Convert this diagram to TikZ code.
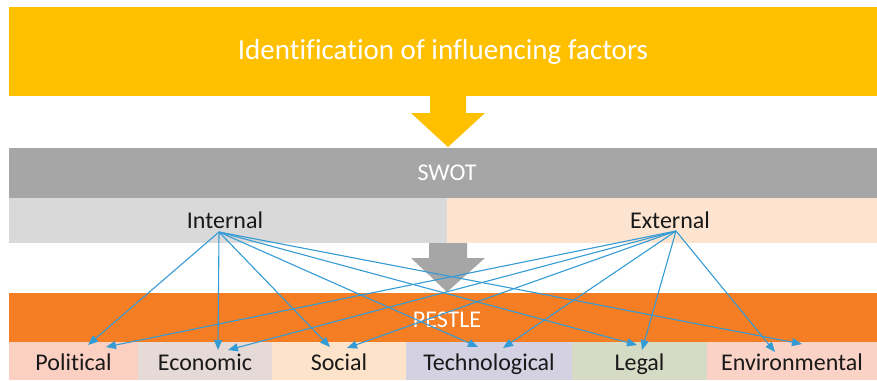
\documentclass[tikz,border=0pt]{standalone}
\usepackage{fontspec}
\setmainfont[Ligatures=NoCommon]{Carlito}
\usetikzlibrary{arrows.meta}

\definecolor{bandyellow}{RGB}{255,192,0}
\definecolor{swotgrey}{RGB}{166,166,166}
\definecolor{intgrey}{RGB}{217,217,217}
\definecolor{extpeach}{RGB}{252,228,208}
\definecolor{pestorange}{RGB}{245,125,35}
\definecolor{polcol}{RGB}{251,208,194}
\definecolor{ecocol}{RGB}{229,218,213}
\definecolor{soccol}{RGB}{253,227,201}
\definecolor{teccol}{RGB}{212,209,227}
\definecolor{legcol}{RGB}{214,219,198}
\definecolor{envcol}{RGB}{251,211,198}
\definecolor{linkblue}{RGB}{52,155,212}
\definecolor{labeltext}{RGB}{25,25,25}

\tikzset{
  band/.style={rectangle, inner sep=0pt, outer sep=0pt, anchor=north west},
  bandtext/.style={font=\fontsize{24}{28}\selectfont, text height=18pt, text depth=0pt},
  factor/.style={band, bandtext, text=labeltext, minimum height=38pt},
  link/.style={draw=linkblue, line width=1.1pt,
    -{Triangle[length=10pt,width=8pt]}}
}

\begin{document}
\begin{tikzpicture}[x=1pt,y=-1pt]
\useasboundingbox (0,0) rectangle (877,380);

% title band
\node[band, fill=bandyellow, minimum width=868pt, minimum height=89pt,
      text=white, font=\fontsize{29}{34}\selectfont] (title) at (9,7)
      {Identification of influencing factors};

% arrow from title down to SWOT
\fill[bandyellow] (430,96) -- (466,96) -- (466,113) -- (485,113)
  -- (448,147) -- (411,113) -- (430,113) -- cycle;

% SWOT band and its two halves
\node[band, fill=swotgrey, minimum width=868pt, minimum height=50pt] (swot) at (9,148) {};
\node[bandtext, text=white, inner sep=0pt] (swottext) at (447,171) {SWOT};
\node[band, fill=intgrey, minimum width=438pt, minimum height=45pt] (intband) at (9,198) {};
\node[band, fill=extpeach, minimum width=430pt, minimum height=45pt] (extband) at (447,198) {};
\node[bandtext, text=labeltext, inner sep=0pt] (internal) at (225,219) {Internal};
\node[bandtext, text=labeltext, inner sep=0pt] (external) at (670,219) {External};

% arrow from SWOT down to PESTLE
\fill[swotgrey] (429,243) -- (467,243) -- (467,258) -- (485,258)
  -- (447,292) -- (411,258) -- (429,258) -- cycle;

% PESTLE band
\node[band, fill=pestorange, minimum width=868pt, minimum height=49pt] (pestle) at (9,293) {};
\node[bandtext, text=white, inner sep=0pt] (pestletext) at (447,318) {PESTLE};

% PESTLE factors
\node[factor, fill=polcol, minimum width=129pt] (pol) at (9,342) {Political};
\node[factor, fill=ecocol, minimum width=134pt] (eco) at (138,342) {Economic};
\node[factor, fill=soccol, minimum width=134pt] (soc) at (272,342) {Social};
\node[factor, fill=teccol, minimum width=166pt] (tec) at (406,342) {Technological};
\node[factor, fill=legcol, minimum width=135pt] (leg) at (572,342) {Legal};
\node[factor, fill=envcol, minimum width=170pt] (env) at (707,342) {Environmental};

% link origins and ends
\coordinate (isrc) at (219,232);
\coordinate (esrc) at (676,231);
\coordinate (ipol) at (88,345);
\coordinate (epol) at (106,347);
\coordinate (ieco) at (218,350);
\coordinate (eeco) at (228,350);
\coordinate (isoc) at (330,347);
\coordinate (esoc) at (347,348);
\coordinate (itec) at (478,347);
\coordinate (etec) at (503,348);
\coordinate (ileg) at (637,345);
\coordinate (eleg) at (642,350);
\coordinate (ienv) at (802,344);
\coordinate (eenv) at (775,352);

% internal factors
\foreach \t in {ipol,ieco,isoc,itec,ileg,ienv}
  \draw[link] (isrc) -- (\t);
% external factors
\foreach \t in {epol,eeco,esoc,etec,eleg,eenv}
  \draw[link] (esrc) -- (\t);
\end{tikzpicture}
\end{document}
